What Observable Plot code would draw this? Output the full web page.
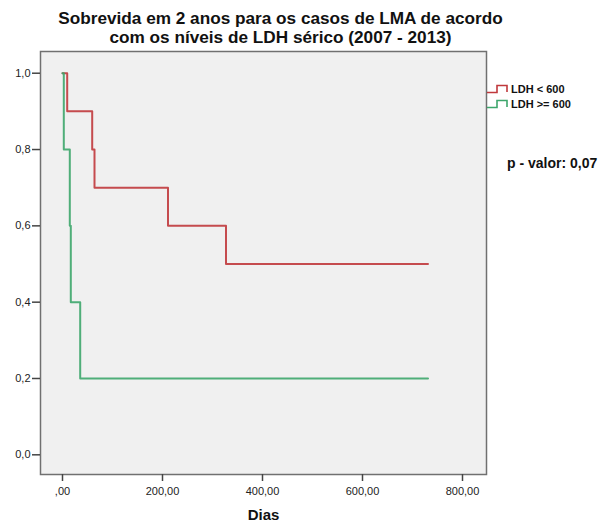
<!DOCTYPE html>
<html>
<head>
<meta charset="utf-8">
<script src="https://cdn.jsdelivr.net/npm/d3@7"></script>
<script src="https://cdn.jsdelivr.net/npm/@observablehq/plot@0.6"></script>
<style>
  body { margin: 0; background: #fff; font-family: "Liberation Sans", Arial, sans-serif; }
  #wrap { position: relative; width: 613px; height: 527px; }
  #title { position: absolute; left: 0; width: 561px; top: 9px; text-align: center;
           font-size: 17.2px; font-weight: bold; line-height: 19px; color: #111; }
  #legend { position: absolute; left: 487px; top: 81px; font-size: 11px; font-weight: bold; color: #111; }
  .row { display: flex; align-items: center; height: 15px; }
  .row svg { margin-right: 3px; }
  #pval { position: absolute; left: 507px; top: 155px; font-size: 14px; font-weight: bold; color: #111; }
</style>
</head>
<body>
<div id="wrap">
  <div id="chart"></div>
  <div id="title">Sobrevida em 2 anos para os casos de LMA de acordo<br>com os níveis de LDH sérico (2007 - 2013)</div>
  <div id="legend"></div>
  <div id="pval">p - valor: 0,07</div>
</div>
<script>
// Series: Kaplan–Meier steps (day at which survival changes, survival)
const seriesNames = ["LDH < 600", "LDH >= 600"];
const seriesColors = ["#c0393c", "#3da66c"];
const ldhLowDays = [0, 9.4, 59.4, 64, 211, 327, 731];
const ldhLowSurv = [1.0, 0.9, 0.8, 0.7, 0.6, 0.5, 0.5];
const ldhHighDays = [0, 2.6, 14.6, 16.6, 35.4, 731];
const ldhHighSurv = [1.0, 0.8, 0.6, 0.4, 0.2, 0.2];

const xTicks = [0, 200, 400, 600, 800];
const xTickLabels = [",00", "200,00", "400,00", "600,00", "800,00"];
const yTicks = [0, 0.2, 0.4, 0.6, 0.8, 1.0];
const yTickLabels = ["0,0", "0,2", "0,4", "0,6", "0,8", "1,0"];
const xLabel = "Dias";

const data = [
  ...ldhLowDays.map((d, i) => ({group: seriesNames[0], day: d, surv: ldhLowSurv[i]})),
  ...ldhHighDays.map((d, i) => ({group: seriesNames[1], day: d, surv: ldhHighSurv[i]}))
];

const xFmt = d => xTickLabels[xTicks.indexOf(d)];
const yFmt = d => yTickLabels[yTicks.findIndex(t => Math.abs(t - d) < 1e-9)];

const chart = Plot.plot({
  width: 613,
  height: 527,
  marginLeft: 40,
  marginRight: 127,
  marginTop: 51,
  marginBottom: 53,
  style: {fontFamily: "Liberation Sans, Arial, sans-serif", fontSize: "11px", color: "#222", background: "transparent"},
  x: {domain: [-44, 848], label: null},
  y: {domain: [-0.0516, 1.0569], label: null},
  color: {domain: seriesNames, range: seriesColors},
  marks: [
    Plot.frame({fill: "#f0f0f0", stroke: null}),
    Plot.line(data, {x: "day", y: "surv", z: "group", stroke: "group", curve: "step-after", strokeWidth: 2, strokeOpacity: 0.9}),
    Plot.frame({stroke: "#707070", strokeWidth: 1.5}),
    Plot.axisX({ticks: xTicks, tickFormat: xFmt, tickSize: 7, tickPadding: 6, stroke: "#444", strokeWidth: 1.5, fontSize: 11, label: null}),
    Plot.axisY({ticks: yTicks, tickFormat: yFmt, tickSize: 8, tickPadding: 2, stroke: "#444", strokeWidth: 1.5, fontSize: 11, label: null}),
    Plot.text([xLabel], {frameAnchor: "bottom", dy: 45, text: d => d, fontSize: 15, fontWeight: "bold", fill: "#111"})
  ]
});
document.getElementById("chart").appendChild(chart);

const legend = document.getElementById("legend");
seriesNames.forEach((name, i) => {
  const row = document.createElement("div");
  row.className = "row";
  row.innerHTML = `<svg width="21" height="10"><path d="M0,8.5H10V1.5H20V8" fill="none" stroke="${seriesColors[i]}" stroke-width="1.6"/></svg><span>${name.replace("<", "&lt;").replace(">", "&gt;")}</span>`;
  legend.appendChild(row);
});
</script>
</body>
</html>
